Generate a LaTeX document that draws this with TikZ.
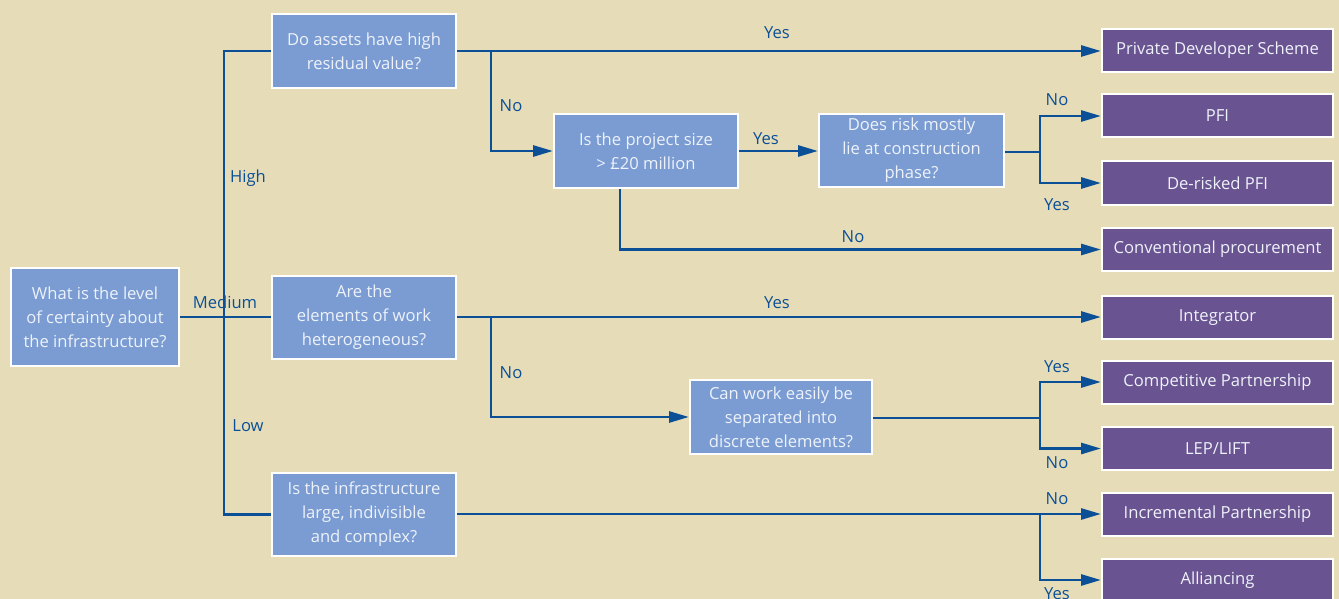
\documentclass[tikz,border=0pt]{standalone}
\usepackage{fontspec}
\setmainfont{Open Sans}
\usetikzlibrary{arrows.meta,calc}
\definecolor{bgsand}{HTML}{E6DDB8}
\definecolor{qblue}{HTML}{7A9CD2}
\definecolor{linkblue}{HTML}{0B4F97}
\definecolor{outpurple}{HTML}{6A5391}
\definecolor{boxtext}{HTML}{EEF2FA}
\tikzset{
  qbox/.style={draw=white, line width=2pt, fill=qblue, text=boxtext, align=center,
    inner sep=0pt, font=\fontsize{16.6}{24}\selectfont},
  obox/.style={draw=white, line width=2pt, fill=outpurple, text=boxtext, align=center,
    inner sep=0pt, minimum width=231pt, minimum height=43pt, font=\fontsize{16.6}{20}\selectfont},
  link/.style={draw=linkblue, line width=2.8pt},
  arr/.style={link, -{Triangle[length=20pt,width=11pt]}},
  lbl/.style={text=linkblue, font=\fontsize{16.6}{20}\selectfont, inner sep=0pt},
}
\begin{document}
\begin{tikzpicture}[x=1pt,y=-1pt]
\fill[bgsand] (0,0) rectangle (1339,599);
\useasboundingbox (0,0) rectangle (1339,599);

% question boxes
\node[qbox, minimum width=168pt, minimum height=98pt] (root) at (95,317) {What is the level\\of certainty about\\the infrastructure?};
\node[qbox, minimum width=184pt, minimum height=74pt] (q1) at (364,51) {Do assets have high\\residual value?};
\node[qbox, minimum width=184pt, minimum height=74pt] (q2) at (646,151) {Is the project size\\> £20 million};
\node[qbox, minimum width=185pt, minimum height=73pt] (q3) at (911.5,150.5) {Does risk mostly\\lie at construction\\phase?};
\node[qbox, minimum width=184pt, minimum height=83pt] (q4) at (364,317.5) {Are the\\elements of work\\heterogeneous?};
\node[qbox, minimum width=182pt, minimum height=74pt] (q5) at (781,417) {Can work easily be\\separated into\\discrete elements?};
\node[qbox, minimum width=184pt, minimum height=83pt] (q6) at (364,514.5) {Is the infrastructure\\large, indivisible\\and complex?};

% outcome boxes
\node[obox] (pds) at (1217.5,50.5) {Private Developer Scheme};
\node[obox] (pfi) at (1217.5,116) {PFI};
\node[obox] (dpfi) at (1217.5,183) {De-risked PFI};
\node[obox] (conv) at (1217.5,249.5) {Conventional procurement};
\node[obox] (integ) at (1217.5,317.5) {Integrator};
\node[obox] (comp) at (1217.5,382) {Competitive Partnership};
\node[obox] (lep) at (1217.5,448.5) {LEP/LIFT};
\node[obox] (incr) at (1217.5,514.5) {Incremental Partnership};
\node[obox] (alli) at (1217.5,580) {Alliancing};

% junction points
\coordinate (trunk) at (224,317);
\coordinate (s1) at (491,51);
\coordinate (s4) at (491,317);
\coordinate (s3) at (1040,152);
\coordinate (s5) at (1040,418);
\coordinate (s6) at (1040,514);

% root to the three questions
\draw[link] (root.east |- trunk) -- (q4.west |- trunk);
\draw[link] (q1.west) -| (trunk) |- (q6.west);

% high certainty branch
\draw[arr] (q1.east |- s1) -- (pds.west |- s1);
\draw[arr] (s1) |- (q2.west);
\draw[arr] (q2.east) -- (q3.west |- q2.east);
\draw[arr] (q2.south -| 620,0) |- (conv.west);
\draw[link] (q3.east |- s3) -- (s3);
\draw[arr] (s3) |- (pfi.west);
\draw[arr] (s3) |- (dpfi.west);

% medium certainty branch
\draw[arr] (q4.east |- s4) -- (integ.west |- s4);
\draw[arr] (s4) |- (q5.west);
\draw[link] (q5.east |- s5) -- (s5);
\draw[arr] (s5) |- (comp.west);
\draw[arr] (s5) |- (lep.west);

% low certainty branch
\draw[arr] (q6.east |- s6) -- (incr.west |- s6);
\draw[arr] (s6) |- (alli.west);

% branch labels
\node[lbl] (lmed) at (225,302) {Medium};
\node[lbl] (lhigh) at (248,178) {High};
\node[lbl] (llow) at (248,426) {Low};
\node[lbl] (y1) at (777,33) {Yes};
\node[lbl] (n1) at (511,106) {No};
\node[lbl] (y2) at (766,139) {Yes};
\node[lbl] (n2) at (853,237) {No};
\node[lbl] (n3) at (1057,100) {No};
\node[lbl] (y3) at (1057,205) {Yes};
\node[lbl] (y4) at (777,303) {Yes};
\node[lbl] (n4) at (511,373) {No};
\node[lbl] (y5) at (1057,367) {Yes};
\node[lbl] (n5) at (1057,463) {No};
\node[lbl] (n6) at (1057,499) {No};
\node[lbl] (y6) at (1057,594) {Yes};
\end{tikzpicture}
\end{document}
